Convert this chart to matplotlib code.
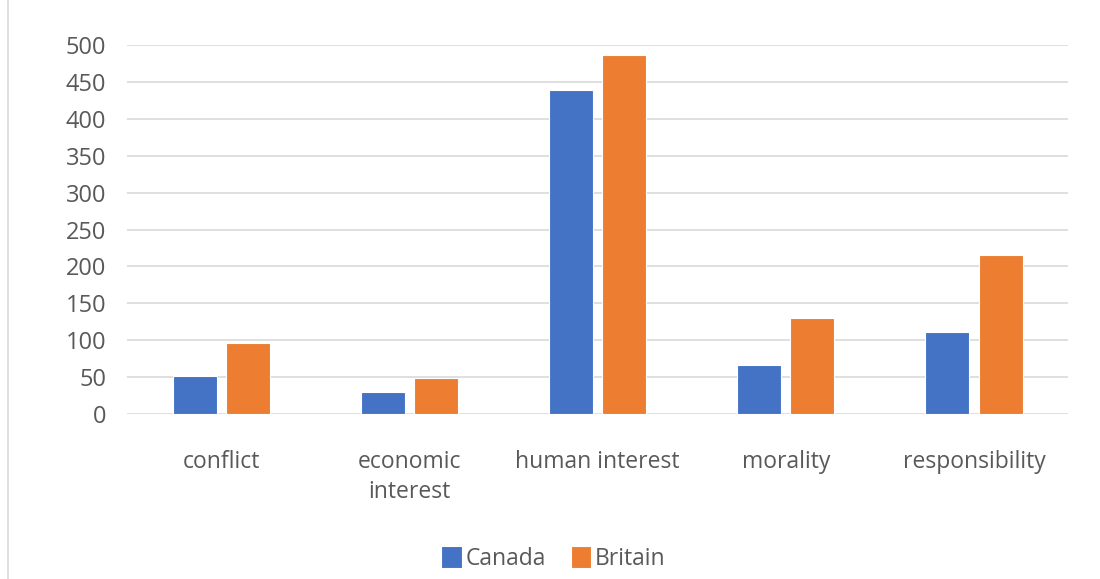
import numpy as np
import matplotlib.pyplot as plt
from matplotlib.lines import Line2D

categories = ['conflict', 'economic\ninterest', 'human interest', 'morality', 'responsibility']
canada = [52, 30, 439, 67, 111]
britain = [96, 49, 486, 130, 215]

plt.rcParams['font.family'] = ['Open Sans', 'DejaVu Sans']

fig = plt.figure(figsize=(11, 5.79), dpi=100)
ax = fig.add_axes([0.1155, 0.285, 0.8555, 0.637])

x = np.arange(len(categories))
w = 0.234
off = 0.141
ax.bar(x - off, canada, w, color='#4472C4', edgecolor='#ffffff', linewidth=0.8, label='Canada', zorder=3)
ax.bar(x + off, britain, w, color='#ED7D31', edgecolor='#ffffff', linewidth=0.8, label='Britain', zorder=3)

ax.set_xlim(-0.5, len(categories) - 0.5)
ax.set_ylim(0, 500)
ax.set_yticks(np.arange(0, 501, 50))
ax.yaxis.grid(True, color='#d9d9d9', linewidth=1.2, zorder=0)
for s in ax.spines.values():
    s.set_visible(False)
ax.tick_params(axis='both', length=0, labelcolor='#595959')
ax.tick_params(axis='y', pad=15, labelsize=17)
ax.tick_params(axis='x', pad=26, labelsize=16.5)
ax.set_xticks(x)
ax.set_xticklabels(categories, linespacing=1.35, va='top')

fig.legend(loc='center', bbox_to_anchor=(0.503, 0.036), ncol=2, frameon=False,
           fontsize=16.5, labelcolor='#595959', handlelength=0.9, handleheight=1.15,
           handletextpad=0.15, columnspacing=1.1)

# chart border on the left
fig.add_artist(Line2D([0.0075, 0.0075], [0.0, 1.0], color='#d9d9d9', linewidth=1.2))

fig.savefig('out.png', dpi=100)
